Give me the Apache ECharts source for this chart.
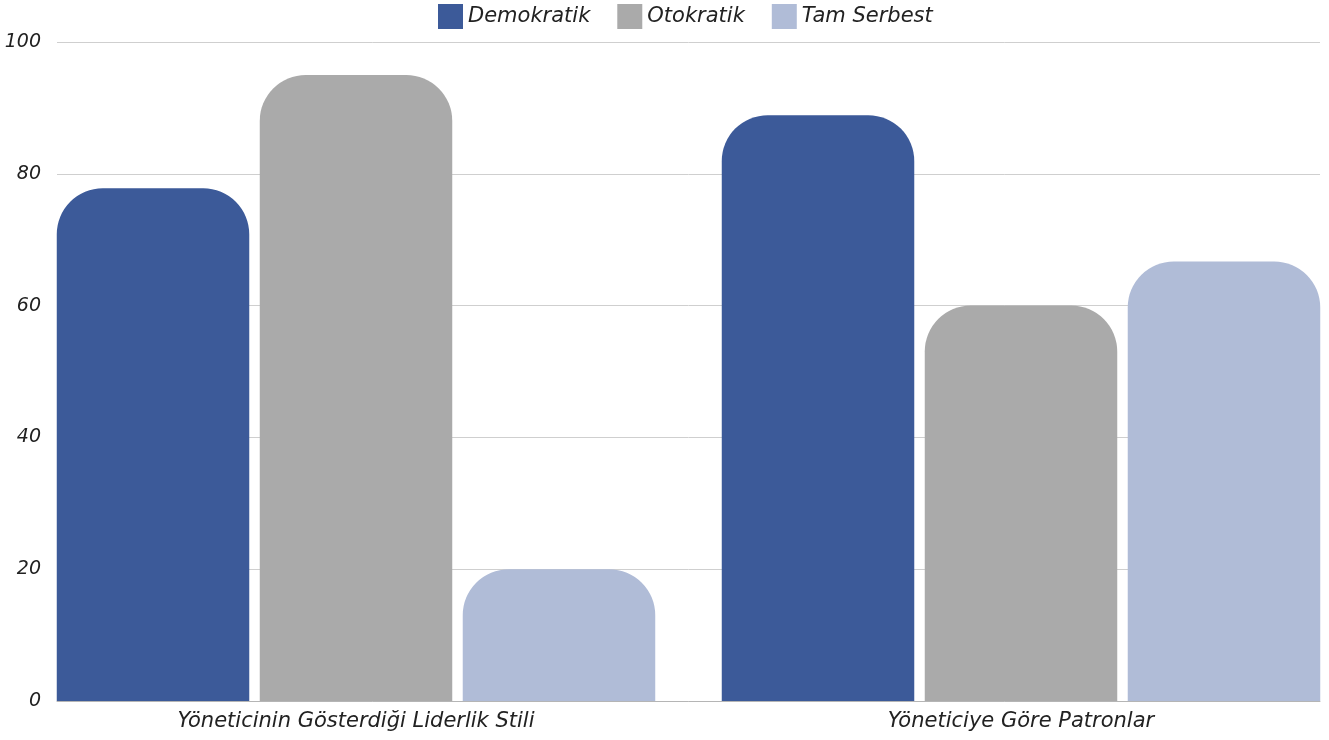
<!DOCTYPE html>
<html>
<head>
<meta charset="utf-8">
<script src="https://cdn.jsdelivr.net/npm/echarts@6/dist/echarts.min.js"></script>
<style>
  html, body { margin: 0; padding: 0; background: #fff; }
  #chart { width: 1329px; height: 740px; }
</style>
</head>
<body>
<div id="chart"></div>
<script>
// Survey categories and per-group scores
const categories = ['Yöneticinin Gösterdiği Liderlik Stili', 'Yöneticiye Göre Patronlar'];
const seriesNames = ['Demokratik', 'Otokratik', 'Tam Serbest'];
const demokratik = [77.8, 88.9];
const otokratik = [95, 60];
const tamSerbest = [20, 66.7];
const yTicks = [0, 20, 40, 60, 80, 100];

const colors = ['#3c5a99', '#aaaaaa', '#b0bcd7'];
const FONT = '"DejaVu Sans", sans-serif';

const chart = echarts.init(document.getElementById('chart'));

function barSeries(name, data, color) {
  return {
    name: name,
    type: 'bar',
    xAxisIndex: 1,
    yAxisIndex: 1,
    clip: false,
    data: data,
    barWidth: 192.5,
    barGap: '5.45%',
    itemStyle: { color: color, borderRadius: [46, 46, 0, 0] }
  };
}

chart.setOption({
  animation: false,
  color: colors,
  textStyle: { fontFamily: FONT },
  legend: {
    top: 4,
    left: 438,
    padding: 0,
    itemWidth: 25,
    itemHeight: 25,
    itemGap: 27,
    icon: 'rect',
    data: seriesNames,
    textStyle: { fontSize: 21, fontStyle: 'italic', color: '#222', fontFamily: FONT }
  },
  grid: [
    // frame: y scale labels, gridlines and baseline
    { left: 57, right: 9, top: 42, bottom: 39 },
    // group centres: the two categories sit on the ends of this grid
    { left: 356, right: 308, top: 42, bottom: 39 }
  ],
  xAxis: [
    {
      gridIndex: 0,
      type: 'category',
      data: categories,
      axisLine: { show: true, lineStyle: { color: '#b5b5b5', width: 1 } },
      axisTick: { show: false },
      axisLabel: { show: false },
      splitLine: { show: false }
    },
    {
      gridIndex: 1,
      type: 'category',
      boundaryGap: false,
      data: categories,
      axisLine: { show: false },
      axisTick: { show: false },
      splitLine: { show: false },
      axisLabel: {
        margin: 10,
        fontSize: 21,
        fontStyle: 'italic',
        color: '#222',
        fontFamily: FONT
      }
    }
  ],
  yAxis: [
    {
      gridIndex: 0,
      type: 'value',
      min: yTicks[0],
      max: yTicks[yTicks.length - 1],
      interval: 20,
      axisLine: { show: false },
      axisTick: { show: false },
      axisLabel: {
        margin: 16,
        fontSize: 19,
        fontStyle: 'italic',
        color: '#222',
        fontFamily: FONT
      },
      splitLine: { show: true, lineStyle: { color: '#cfcfcf', width: 1 } }
    },
    {
      gridIndex: 1,
      type: 'value',
      min: yTicks[0],
      max: yTicks[yTicks.length - 1],
      interval: 20,
      show: false,
      splitLine: { show: false }
    }
  ],
  series: [
    barSeries(seriesNames[0], demokratik, colors[0]),
    barSeries(seriesNames[1], otokratik, colors[1]),
    barSeries(seriesNames[2], tamSerbest, colors[2])
  ]
});
</script>
</body>
</html>
